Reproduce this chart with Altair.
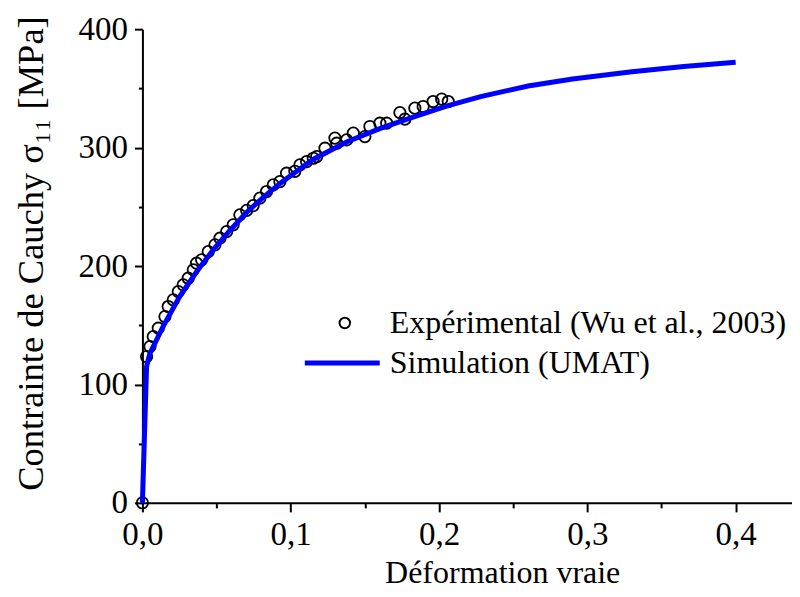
import altair as alt
import pandas as pd

# Simulation (UMAT) curve
sim_eps = [0, 0.0028, 0.005, 0.014, 0.025, 0.037, 0.048, 0.059, 0.07, 0.0815, 0.093,
           0.104, 0.115, 0.138, 0.16, 0.183, 0.205, 0.228, 0.26, 0.29, 0.33, 0.365, 0.40]
sim_sig = [0, 115, 126, 149, 174, 196, 214, 230, 245, 258, 270,
           280, 290, 305, 316, 326, 335, 343, 352, 358, 364, 368.5, 372]

exp_eps = [0, 0.0028, 0.0051, 0.0073, 0.0107, 0.0152, 0.0174, 0.0208, 0.0242, 0.0275,
           0.0309, 0.0343, 0.0365, 0.0399, 0.0444, 0.0489, 0.0523, 0.0568, 0.0612, 0.0657,
           0.0703, 0.0747, 0.0792, 0.0837, 0.0882, 0.0927, 0.0972, 0.1028, 0.1062, 0.1107,
           0.1152, 0.1175, 0.1231, 0.1298, 0.131, 0.1377, 0.1422, 0.150, 0.1534, 0.1601,
           0.1647, 0.1736, 0.177, 0.1837, 0.1893, 0.196, 0.2018, 0.2062]
exp_sig = [0, 123.5, 132, 140.4, 147.5, 157.3, 165.8, 171.4, 178.4, 184.1,
           189.7, 196.8, 202.4, 205.2, 212.2, 217.9, 223.5, 229.1, 234.8, 243.2,
           247, 251, 257.3, 262.9, 268.5, 271.3, 278.4, 280, 285.4, 288.2,
           291, 292.4, 299.5, 308, 303.7, 306.5, 312.2, 309.3, 317.8, 320.6,
           320.6, 329.6, 324, 333.3, 334.7, 338.9, 340.9, 338.9]

x_ticks = [0, 0.05, 0.1, 0.15, 0.2, 0.25, 0.3, 0.35, 0.4]
y_ticks = [0, 50, 100, 150, 200, 250, 300, 350, 400]

legend_exp = "Expérimental (Wu et al., 2003)"
legend_sim = "Simulation (UMAT)"

FONT = "Liberation Serif"

sim = pd.DataFrame({"eps": sim_eps, "sig": sim_sig})
exp = pd.DataFrame({"eps": exp_eps, "sig": exp_sig})
one = pd.DataFrame({"a": [0]})

xscale = alt.Scale(domain=[0, 0.438], nice=False, zero=False)
yscale = alt.Scale(domain=[0, 400], nice=False)

xaxis = alt.Axis(
    values=x_ticks,
    title="Déformation vraie",
    labelExpr="abs(datum.value*10 - round(datum.value*10)) < 0.001 ? replace(format(datum.value, '.1f'), '.', ',') : ''",
    tickSize={"condition": {"test": "abs(datum.value*10 - round(datum.value*10)) < 0.001", "value": 9}, "value": 5},
    labelPadding=7, labelFlush=False,
    titleX=360, titleY=80, titleAlign="center", titleBaseline="alphabetic",
    titleAnchor=None,
)
yaxis = alt.Axis(
    values=y_ticks,
    format="d",
    title="Contrainte de Cauchy σ₁₁ [MPa]",
    labelExpr="datum.value % 100 === 0 ? datum.label : ''",
    tickSize={"condition": {"test": "datum.value % 100 === 0", "value": 8}, "value": 4},
    labelPadding=7, labelFlush=False,
    titleX=-100, titleY=224, titleAngle=270, titleAlign="center", titleBaseline="alphabetic",
    titleFontSize=36.5,
)

pts = alt.Chart(exp).mark_point(shape="circle", filled=False, color="black",
                                strokeWidth=1.8, size=130, opacity=1).encode(
    x=alt.X("eps:Q", scale=xscale, axis=xaxis),
    y=alt.Y("sig:Q", scale=yscale, axis=yaxis),
)
line = alt.Chart(sim).mark_line(color="#0000ff", strokeWidth=5).encode(
    x=alt.X("eps:Q", scale=xscale),
    y=alt.Y("sig:Q", scale=yscale),
)

leg_pt = alt.Chart(one).mark_point(shape="circle", filled=False, color="black",
                                   strokeWidth=2, size=110, opacity=1).encode(
    x=alt.value(202.5), y=alt.value(294))
leg_t1 = alt.Chart(one).mark_text(align="left", baseline="middle", font=FONT,
                                  fontSize=32, color="black").encode(
    x=alt.value(247.5), y=alt.value(294), text=alt.value(legend_exp))
leg_rule = alt.Chart(one).mark_rule(color="#0000ff", strokeWidth=5).encode(
    x=alt.value(162.5), x2=alt.value(237.5), y=alt.value(334))
leg_t2 = alt.Chart(one).mark_text(align="left", baseline="middle", font=FONT,
                                  fontSize=32, color="black").encode(
    x=alt.value(247.5), y=alt.value(334), text=alt.value(legend_sim))

chart = alt.layer(pts, line, leg_pt, leg_t1, leg_rule, leg_t2).properties(
    width=650, height=474,
    autosize=alt.AutoSizeParams(type="none"),
    padding={"left": 134.5, "top": 21, "right": 0, "bottom": 88},
    background="white",
).configure_view(stroke=None).configure_axis(
    grid=False,
    domainColor="black", domainWidth=2,
    tickColor="black", tickWidth=2,
    labelFont=FONT, labelFontSize=33, labelColor="black",
    titleFont=FONT, titleFontSize=32, titleColor="black", titleFontWeight="normal",
)

chart.save("out.html", embed_options={"renderer": "svg", "actions": False})
